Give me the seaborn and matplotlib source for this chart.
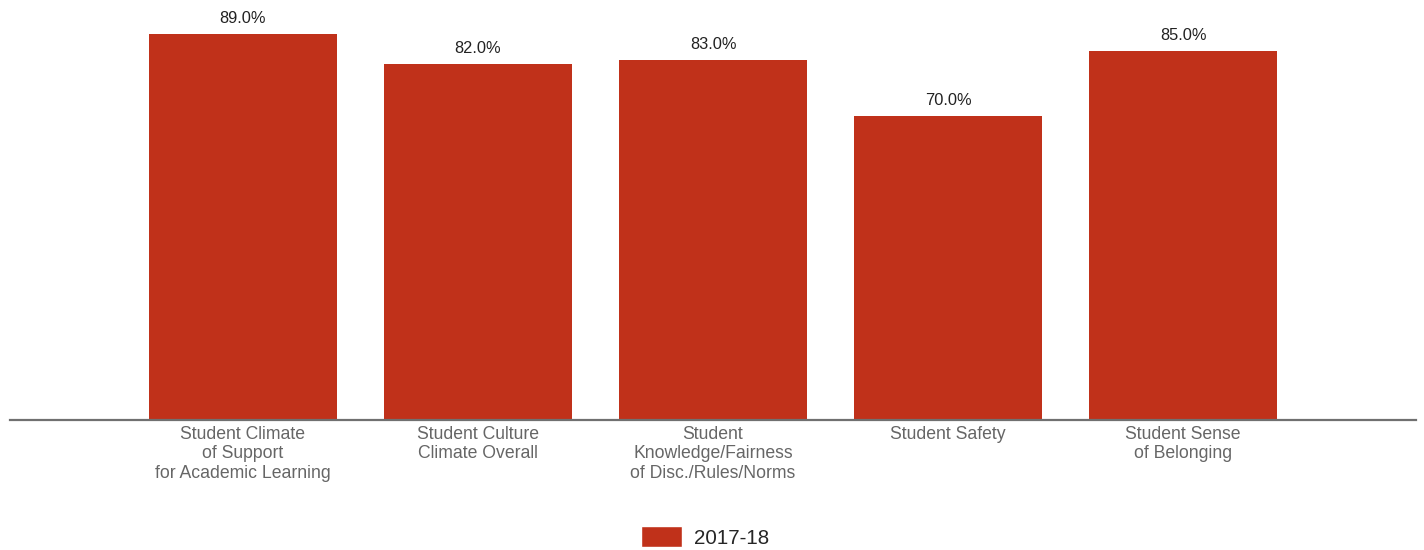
import matplotlib
matplotlib.use("Agg")
import matplotlib.pyplot as plt
import seaborn as sns
import pandas as pd
from matplotlib.patches import Patch

categories = [
    "Student Climate\nof Support\nfor Academic Learning",
    "Student Culture\nClimate Overall",
    "Student\nKnowledge/Fairness\nof Disc./Rules/Norms",
    "Student Safety",
    "Student Sense\nof Belonging",
]
values = [89.0, 82.0, 83.0, 70.0, 85.0]
series_name = "2017-18"

df = pd.DataFrame({"category": categories, "value": values})

sns.set_style("white")
plt.rcParams["font.family"] = ["Liberation Sans", "DejaVu Sans"]

bar_color = "#C0311A"

fig = plt.figure(figsize=(14.24, 5.5), dpi=100)
ax = fig.add_axes([10 / 1424, 130 / 550, 1406 / 1424, 420 / 550])

sns.barplot(data=df, x="category", y="value", color=bar_color,
            saturation=1, width=0.8, linewidth=0, ax=ax)

for i, v in enumerate(values):
    ax.text(i, v + 1.9, f"{v:.1f}%", ha="center", va="bottom",
            fontsize=11.8, color="#222222")

ax.set_xlim(-0.99, 4.99)
ax.set_ylim(0, 96.8)
ax.set_xlabel("")
ax.set_ylabel("")
ax.set_yticks([])
for s in ["top", "right", "left"]:
    ax.spines[s].set_visible(False)
ax.spines["bottom"].set_color("#707070")
ax.spines["bottom"].set_linewidth(1.6)
ax.tick_params(axis="x", length=0, pad=4, labelsize=12.7, labelcolor="#666666")
for lbl in ax.get_xticklabels():
    lbl.set_linespacing(1.22)

handles = [Patch(facecolor=bar_color, label=series_name)]
fig.legend(handles=handles, loc="center", bbox_to_anchor=(705 / 1424, 1 - 537 / 550),
           frameon=False, fontsize=14.8, handlelength=2.0, handleheight=1.2,
           handletextpad=0.6)

fig.savefig("out.png", dpi=100)
